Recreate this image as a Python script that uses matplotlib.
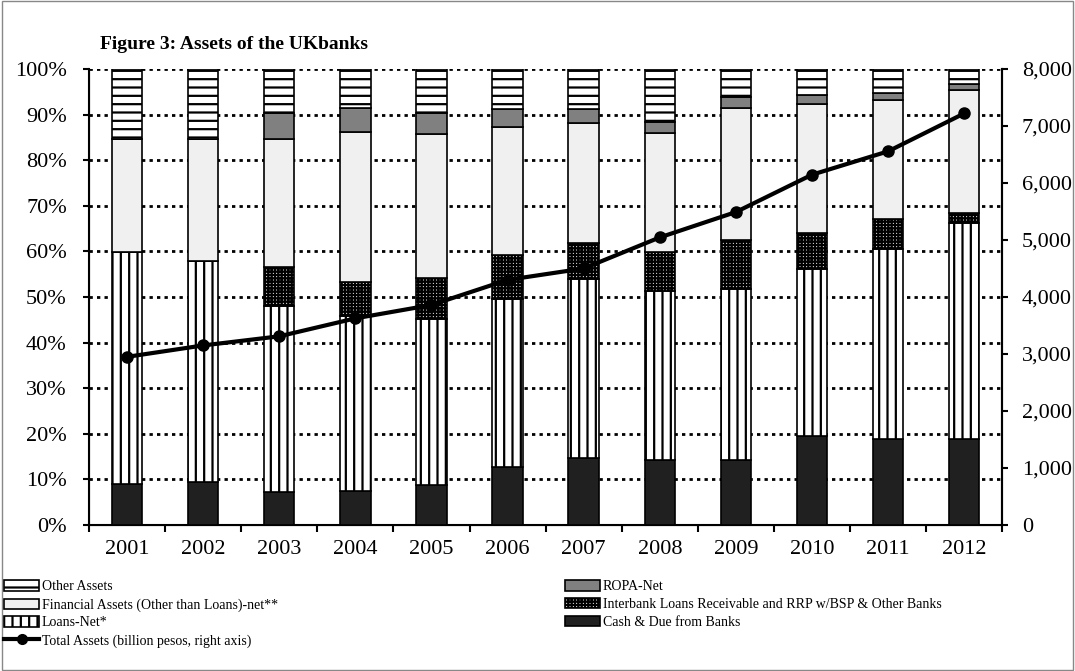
import matplotlib
matplotlib.use('Agg')
import matplotlib.pyplot as plt
import numpy as np
from matplotlib.lines import Line2D
from matplotlib.patches import Patch, Rectangle

years = ["2001", "2002", "2003", "2004", "2005", "2006",
         "2007", "2008", "2009", "2010", "2011", "2012"]

# shares of total assets (%)
cash = [9.0, 9.4, 7.3, 7.5, 8.7, 12.8, 14.8, 14.3, 14.3, 19.6, 18.9, 18.9]
loans = [50.9, 48.5, 40.7, 38.3, 36.5, 36.8, 39.2, 37.1, 37.4, 36.5, 41.6, 47.3]
interbank = [0.0, 0.0, 8.5, 7.5, 9.0, 9.5, 7.9, 8.5, 10.8, 7.9, 6.5, 2.2]
financial = [24.7, 26.7, 28.1, 32.8, 31.6, 28.2, 26.3, 26.1, 29.0, 28.4, 26.1, 27.0]
ropa = [0.0, 0.0, 5.7, 5.4, 4.5, 4.0, 3.0, 2.3, 2.4, 2.0, 1.6, 1.3]
other = [15.4, 15.4, 9.7, 8.5, 9.7, 8.7, 8.8, 11.7, 6.1, 5.6, 5.3, 3.3]

# total assets, billion pesos
total_assets = [2950, 3150, 3310, 3625, 3860, 4300, 4500, 5045, 5490, 6145, 6555, 7220]

plt.rcParams['font.family'] = ['Liberation Serif', 'DejaVu Serif']
plt.rcParams['hatch.linewidth'] = 1.6

fig = plt.figure(figsize=(10.75, 6.71), dpi=100)
ax = fig.add_axes([0.0828, 0.2176, 0.8495, 0.6796])

x = np.arange(len(years))
w = 0.4
layers = [
    (cash, '#202020', None, 'Cash & Due from Banks'),
    (loans, 'white', '||', 'Loans-Net*'),
    (interbank, 'white', '+++++', 'Interbank Loans Receivable and RRP w/BSP & Other Banks'),
    (financial, '#f0f0f0', None, 'Financial Assets (Other than Loans)-net**'),
    (ropa, '#808080', None, 'ROPA-Net'),
    (other, 'white', '--', 'Other Assets'),
]
bottom = np.zeros(len(years))
handles = {}
for vals, fc, hatch, lab in layers:
    vals = np.array(vals)
    ax.bar(x, vals, w, bottom=bottom, color=fc, edgecolor='black',
           hatch=hatch, linewidth=1.2, zorder=3)
    bottom += vals
    handles[lab] = Patch(facecolor=fc, edgecolor='black', hatch=hatch, linewidth=1.2)

ax.set_xlim(-0.5, len(years) - 0.5)
ax.set_ylim(0, 100)
ax.set_yticks(np.arange(0, 101, 10))
ax.set_yticklabels([f"{v}%" for v in range(0, 101, 10)], fontsize=16)
ax.set_xticks(x)
ax.set_xticklabels(years, fontsize=16)
ax.set_xticks(np.arange(-0.5, len(years)), minor=True)
ax.tick_params(axis='x', which='major', length=0, pad=11)
ax.tick_params(axis='x', which='minor', length=5, width=1.5, direction='out')
ax.tick_params(axis='y', length=4, width=1.5, direction='out', pad=12)
ax.grid(axis='y', linestyle=(0, (1.2, 1.5)), color='black', linewidth=2, zorder=0)
ax.set_axisbelow(True)
ax.spines['top'].set_visible(False)
for s in ['left', 'bottom', 'right']:
    ax.spines[s].set_linewidth(1.5)

ax2 = ax.twinx()
ax2.plot(x, total_assets, color='black', linewidth=3, marker='o', markersize=8, zorder=5)
ax2.set_ylim(0, 8000)
ax2.set_yticks(np.arange(0, 8001, 1000))
ax2.set_yticklabels([f"{v:,}" for v in range(0, 8001, 1000)], fontsize=16)
ax2.tick_params(axis='y', length=4, width=1.5, direction='out', pad=10)
ax2.spines['top'].set_visible(False)
ax2.spines['right'].set_linewidth(1.5)

fig.text(0.093, 0.927, "Figure 3: Assets of the UKbanks", fontsize=14, fontweight='bold')

line_handle = Line2D([0], [0], color='black', linewidth=3, marker='o', markersize=7)
col1 = ['Other Assets', 'Financial Assets (Other than Loans)-net**', 'Loans-Net*']
col2 = ['ROPA-Net', 'Interbank Loans Receivable and RRP w/BSP & Other Banks',
        'Cash & Due from Banks']
leg_kw = dict(frameon=False, fontsize=10, handlelength=2.5, handleheight=0.75,
              labelspacing=0.34, handletextpad=0.2, borderpad=0, borderaxespad=0)
leg1 = fig.legend([handles[l] for l in col1] + [line_handle],
                  col1 + ['Total Assets (billion pesos, right axis)'],
                  loc='upper left', bbox_to_anchor=(0.004, 0.135), **leg_kw)
leg2 = fig.legend([handles[l] for l in col2], col2,
                  loc='upper left', bbox_to_anchor=(0.526, 0.135), **leg_kw)

fig.patches.append(Rectangle((0.002, 0.002), 0.996, 0.996, transform=fig.transFigure,
                             fill=False, edgecolor='#888888', linewidth=1))

plt.savefig('out.png', dpi=100)
